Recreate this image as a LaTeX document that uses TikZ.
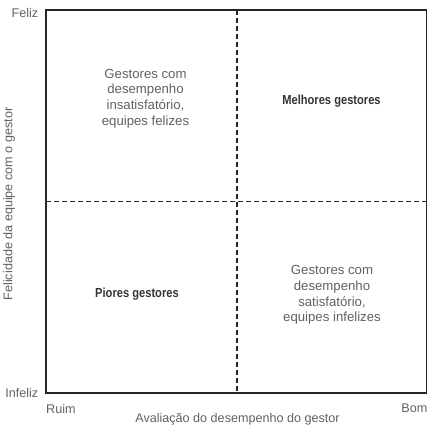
\documentclass[tikz,border=0pt]{standalone}
\usepackage{fontspec}
\setmainfont{Liberation Sans}
\begin{document}
\begin{tikzpicture}[x=1pt,y=-1pt,
  frame/.style={draw=black!85, line width=1.4pt},
  divider/.style={draw=black!85, line width=1.4pt, dash pattern=on 5pt off 3pt},
  quad/.style={text=black!62, font=\fontsize{13.2}{15.6}\selectfont, align=center},
  quadbold/.style={text=black!80, font=\fontsize{13.1}{15}\selectfont\bfseries\addfontfeature{FakeStretch=0.85}},
  axislbl/.style={text=black!62, font=\fontsize{12.6}{14}\selectfont, inner sep=0pt}]
  \useasboundingbox (0,0) rectangle (428,427);
  % corners of the chart area
  \coordinate (tl) at (46,10);
  \coordinate (br) at (426.5,393);
  \coordinate (tr) at (426.5,10);
  \coordinate (bl) at (46,393);
  % dashed dividers
  \coordinate (vt) at (237,10);
  \coordinate (vb) at (237,393);
  \coordinate (hl) at (46,201.5);
  \coordinate (hr) at (426.5,201.5);
  \draw[divider] (vt) -- (vb);
  \draw[divider] (hl) -- (hr);
  \draw[frame] (tl) -- (tr) -- (br) -- (bl) -- cycle;
  % quadrant texts
  \node[quad] (q1) at (145.5,98.5) {Gestores com\\desempenho\\insatisfatório,\\equipes felizes};
  \node[quadbold] (q2) at (331.5,101) {Melhores gestores};
  \node[quadbold] (q3) at (137,294) {Piores gestores};
  \node[quad] (q4) at (332,295) {Gestores com\\desempenho\\satisfatório,\\equipes infelizes};
  % axis labels
  \node[axislbl, anchor=east] (feliz) at (38.5,13) {Feliz};
  \node[axislbl, anchor=east] (infeliz) at (38.5,393) {Infeliz};
  \node[axislbl, anchor=west] (ruim) at (46,409) {Ruim};
  \node[axislbl, anchor=east] (bom) at (427.5,408) {Bom};
  \node[axislbl] (xlab) at (237.5,419.5) {Avaliação do desempenho do gestor};
  \node[axislbl, rotate=90] (ylab) at (9,204) {Felicidade da equipe com o gestor};
\end{tikzpicture}
\end{document}
